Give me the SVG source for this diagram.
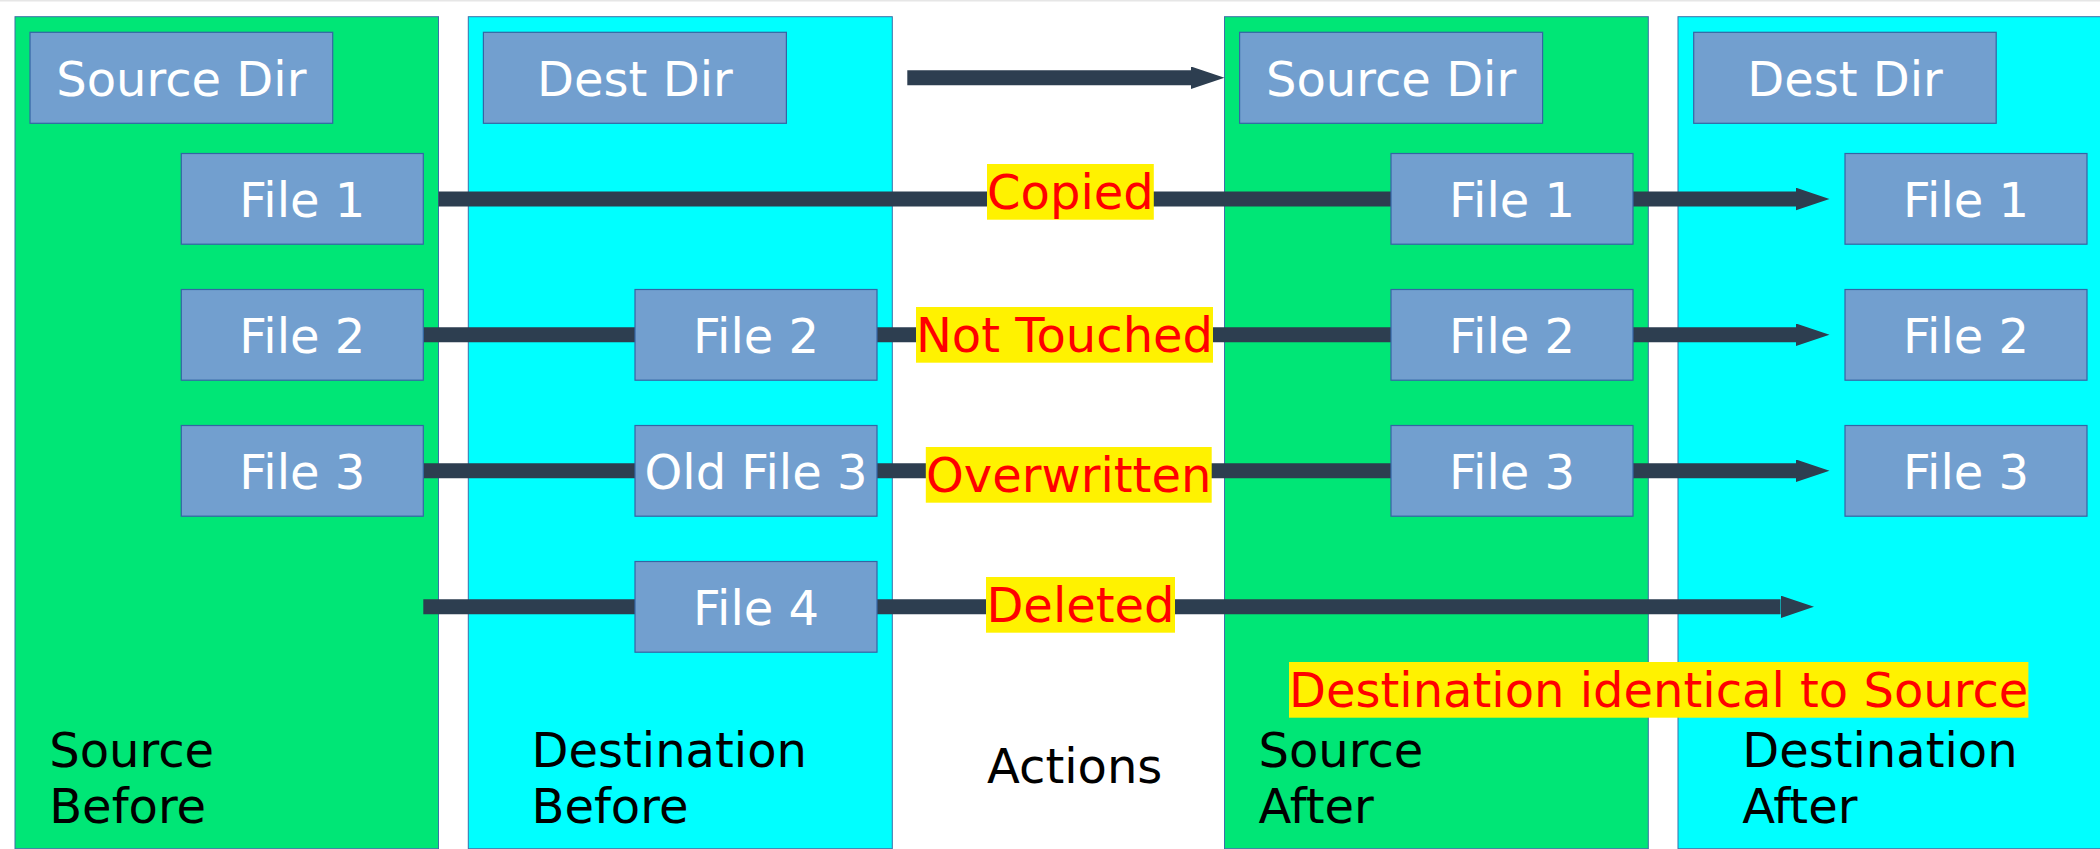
<svg xmlns="http://www.w3.org/2000/svg" width="2100" height="849" viewBox="0 0 2100 849">
  <style>
    .panel-src { fill: #00e676; stroke: #3d6fa8; stroke-width: 1; }
    .panel-dst { fill: #00ffff; stroke: #3d6fa8; stroke-width: 1; }
    .box { fill: #729fcf; stroke: #3465a4; stroke-width: 1.2; }
    .box-text { font-family: "DejaVu Sans", sans-serif; font-size: 48px; fill: #ffffff; text-anchor: middle; }
    .conn { stroke: #2d3e50; stroke-width: 15; fill: none; }
    .tag-bg { fill: #fff200; }
    .tag-text { font-family: "DejaVu Sans", sans-serif; font-size: 48px; fill: #ff0000; text-anchor: middle; }
    .caption { font-family: "DejaVu Sans", sans-serif; font-size: 48px; fill: #000000; }
  </style>
  <defs>
    <marker id="arrow" markerUnits="userSpaceOnUse" markerWidth="34" markerHeight="23" refX="0" refY="11.3" orient="auto">
      <path d="M0,0 L33.5,11.3 L0,22.6 Z" fill="#2d3e50"/>
    </marker>
  </defs>

  <rect x="0" y="0" width="2100" height="849" fill="#ffffff"/>
  <rect x="0" y="0" width="2100" height="1.5" fill="#e6e6e6"/>

  <!-- column backgrounds -->
  <g id="panels">
    <rect id="panel-source-before" class="panel-src" x="15" y="16.7" width="423.5" height="832"/>
    <rect id="panel-dest-before" class="panel-dst" x="468.3" y="16.7" width="424" height="832"/>
    <rect id="panel-source-after" class="panel-src" x="1224.5" y="16.7" width="423.8" height="832"/>
    <rect id="panel-dest-after" class="panel-dst" x="1678" y="16.7" width="430" height="832"/>
  </g>

  <!-- connectors -->
  <g id="connectors">
    <line class="conn" x1="907.3" y1="77.8" x2="1191" y2="77.8" marker-end="url(#arrow)"/>
    <line class="conn" x1="438.5" y1="199" x2="1796" y2="199" marker-end="url(#arrow)"/>
    <line class="conn" x1="423.3" y1="334.8" x2="1796" y2="334.8" marker-end="url(#arrow)"/>
    <line class="conn" x1="423.3" y1="470.8" x2="1796" y2="470.8" marker-end="url(#arrow)"/>
    <line class="conn" x1="423.3" y1="606.8" x2="1780.5" y2="606.8" marker-end="url(#arrow)"/>
  </g>

  <!-- source before -->
  <g id="src-dir-before">
    <rect class="box" x="30" y="32.3" width="302.7" height="91"/>
    <text class="box-text" x="181.3" y="95.5">Source Dir</text>
  </g>
  <g id="src-file1-before">
    <rect class="box" x="181.3" y="153.5" width="242" height="90.7"/>
    <text class="box-text" x="302.3" y="216.5">File 1</text>
  </g>
  <g id="src-file2-before">
    <rect class="box" x="181.3" y="289.5" width="242" height="90.7"/>
    <text class="box-text" x="302.3" y="352.5">File 2</text>
  </g>
  <g id="src-file3-before">
    <rect class="box" x="181.3" y="425.5" width="242" height="90.7"/>
    <text class="box-text" x="302.3" y="488.5">File 3</text>
  </g>

  <!-- destination before -->
  <g id="dst-dir-before">
    <rect class="box" x="483.4" y="32.3" width="303" height="91"/>
    <text class="box-text" x="634.9" y="95.5">Dest Dir</text>
  </g>
  <g id="dst-file2-before">
    <rect class="box" x="635" y="289.5" width="242" height="90.7"/>
    <text class="box-text" x="756" y="352.5">File 2</text>
  </g>
  <g id="dst-file3-before">
    <rect class="box" x="635" y="425.5" width="242" height="90.7"/>
    <text class="box-text" x="756" y="488.5">Old File 3</text>
  </g>
  <g id="dst-file4-before">
    <rect class="box" x="635" y="561.5" width="242" height="90.7"/>
    <text class="box-text" x="756" y="624.5">File 4</text>
  </g>

  <!-- source after -->
  <g id="src-dir-after">
    <rect class="box" x="1239.6" y="32.3" width="303" height="91"/>
    <text class="box-text" x="1391.1" y="95.5">Source Dir</text>
  </g>
  <g id="src-file1-after">
    <rect class="box" x="1391" y="153.5" width="242" height="90.7"/>
    <text class="box-text" x="1512" y="216.5">File 1</text>
  </g>
  <g id="src-file2-after">
    <rect class="box" x="1391" y="289.5" width="242" height="90.7"/>
    <text class="box-text" x="1512" y="352.5">File 2</text>
  </g>
  <g id="src-file3-after">
    <rect class="box" x="1391" y="425.5" width="242" height="90.7"/>
    <text class="box-text" x="1512" y="488.5">File 3</text>
  </g>

  <!-- destination after -->
  <g id="dst-dir-after">
    <rect class="box" x="1693.7" y="32.3" width="302.5" height="91"/>
    <text class="box-text" x="1845" y="95.5">Dest Dir</text>
  </g>
  <g id="dst-file1-after">
    <rect class="box" x="1845" y="153.5" width="242" height="90.7"/>
    <text class="box-text" x="1966" y="216.5">File 1</text>
  </g>
  <g id="dst-file2-after">
    <rect class="box" x="1845" y="289.5" width="242" height="90.7"/>
    <text class="box-text" x="1966" y="352.5">File 2</text>
  </g>
  <g id="dst-file3-after">
    <rect class="box" x="1845" y="425.5" width="242" height="90.7"/>
    <text class="box-text" x="1966" y="488.5">File 3</text>
  </g>

  <!-- action tags -->
  <g id="tag-copied">
    <rect class="tag-bg" x="987" y="164" width="166.8" height="55.7"/>
    <text class="tag-text" x="1070.4" y="209">Copied</text>
  </g>
  <g id="tag-not-touched">
    <rect class="tag-bg" x="916" y="307" width="297" height="55.7"/>
    <text class="tag-text" x="1064.5" y="352">Not Touched</text>
  </g>
  <g id="tag-overwritten">
    <rect class="tag-bg" x="925.8" y="447" width="285.9" height="55.7"/>
    <text class="tag-text" x="1068.7" y="492">Overwritten</text>
  </g>
  <g id="tag-deleted">
    <rect class="tag-bg" x="986" y="577" width="189" height="55.7"/>
    <text class="tag-text" x="1080.5" y="622">Deleted</text>
  </g>
  <g id="tag-identical">
    <rect class="tag-bg" x="1289" y="662" width="739.4" height="55.7"/>
    <text class="tag-text" x="1658.7" y="707">Destination identical to Source</text>
  </g>

  <!-- column captions -->
  <g id="caption-source-before">
    <text class="caption" x="49.2" y="767.3">Source</text>
    <text class="caption" x="49.2" y="822.7">Before</text>
  </g>
  <g id="caption-dest-before">
    <text class="caption" x="531.5" y="767.3">Destination</text>
    <text class="caption" x="531.5" y="822.7">Before</text>
  </g>
  <g id="caption-actions">
    <text class="caption" x="987" y="782.7">Actions</text>
  </g>
  <g id="caption-source-after">
    <text class="caption" x="1258.5" y="767">Source</text>
    <text class="caption" x="1258.5" y="822.5">After</text>
  </g>
  <g id="caption-dest-after">
    <text class="caption" x="1742.2" y="767">Destination</text>
    <text class="caption" x="1742.2" y="822.5">After</text>
  </g>
</svg>
